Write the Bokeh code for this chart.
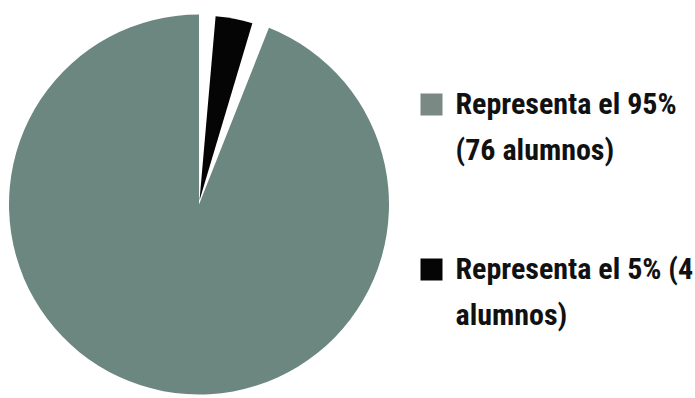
import math
from bokeh.plotting import figure
from bokeh.models import Range1d, ColumnDataSource
from bokeh.core.properties import value
from bokeh.embed import file_html
from bokeh.resources import INLINE

# ---- data ----
categories = ["Representa el 95% (76 alumnos)", "Representa el 5% (4 alumnos)"]
students = [76, 4]
legend_lines = [["Representa el 95%", "(76 alumnos)"], ["Representa el 5% (4", "alumnos)"]]
colors = ["#6b877f", "#050505"]
legend_colors = ["#7b8985", "#050505"]

W, H = 695, 398
p = figure(width=W, height=H, output_backend="svg", toolbar_location=None,
           x_range=Range1d(0, W), y_range=Range1d(0, H), min_border=0)
p.axis.visible = False
p.grid.visible = False
p.outline_line_color = None
p.background_fill_color = "white"
p.border_fill_color = "white"

# pie geometry (pixel space, y up)
cx, cy, R = 198.5, H - 204, 190
total = sum(students)
pad = 1.8      # degrees: rotation and gap of the big slice
inset = 3.2    # extra angular inset of the small slice
order = [1, 0]  # clockwise from 12 o'clock
cur = pad
wedges = dict(start=[], end=[], color=[], r=[], x=[], y=[])
for i in order:
    span = students[i] / total * 360.0
    if i == 0:
        a0, a1 = cur + pad, cur + span - pad
    else:
        a0, a1 = cur + inset, cur + span - inset
    cur += span
    wedges["start"].append(math.radians(90 - a1))
    wedges["end"].append(math.radians(90 - a0))
    wedges["color"].append(colors[i])
    wedges["r"].append(R if i == 0 else R - 5)
    wedges["x"].append(cx if i == 0 else cx + 0.5)
    wedges["y"].append(cy if i == 0 else cy + 4)

src = ColumnDataSource(wedges)
p.wedge(x="x", y="y", radius="r", start_angle="start", end_angle="end",
        fill_color="color", line_color=None, source=src)

# legend
font = value("Roboto Condensed")
lx_box, lx_text = 420, 455
item_top = [93, 258]
line_gap = 46
text_shift = 12
for k in range(len(categories)):
    top = item_top[k]
    p.rect(x=[lx_box + 11], y=[H - (top + 11)], width=[22], height=[22],
           fill_color=legend_colors[k], line_color=None)
    for j, line in enumerate(legend_lines[k]):
        p.text(x=[lx_text], y=[H - (top + 22 - text_shift + j * line_gap)], text=[line],
               text_font=font, text_font_size="30px", text_font_style="bold",
               text_color="#111111", text_baseline="alphabetic", text_align="left")

open("out.html", "w").write(file_html(p, INLINE))
